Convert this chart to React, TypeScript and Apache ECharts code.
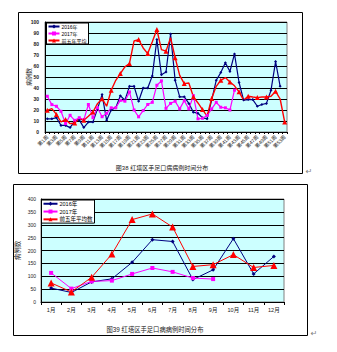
import React, { useEffect, useRef } from 'react';
import * as echarts from 'echarts';

const weekLabels = [
  '第1周', '第2周', '第3周', '第4周', '第5周', '第6周', '第7周', '第8周', '第9周', '第10周',
  '第11周', '第12周', '第13周', '第14周', '第15周', '第16周', '第17周', '第18周', '第19周', '第20周',
  '第21周', '第22周', '第23周', '第24周', '第25周', '第26周', '第27周', '第28周', '第29周', '第30周',
  '第31周', '第32周', '第33周', '第34周', '第35周', '第36周', '第37周', '第38周', '第39周', '第40周',
  '第41周', '第42周', '第43周', '第44周', '第45周', '第46周', '第47周', '第48周', '第49周', '第50周',
  '第51周', '第52周', '第53周',
];
const week2016 = [
  12, 12, 13, 6, 6, 4, 10, 11, 4, 9,
  9, 21, 34, 10.6, 20, 22, 33, 29, 41.5, 41.5,
  28, 40, 40, 51, 84, 52, 54.5, 89, 47, 32,
  32, 26, 18, 17, 13, 12, 29, 47, 54, 63,
  55, 71, 45, 29, 29.5, 29.5, 23.4, 25, 26, 38,
  64, 41.5,
];
const week2017 = [
  32.5, 24.9, 23.4, 18.8, 7.6, 15.2, 10.6, 13, 11, 25,
  13, 22, 13.9, 17, 22, 22, 28.8, 28, 36.4, 20,
  13.8, 19.5, 25, 27, 42.5, 46.5, 21.5, 26, 28, 21,
  28.5, 21, 33, 12, 12.5, 15, 21, 27, 22.5, 22,
  20, 38,
];
const weekAvg = [
  19.7, 21.2, 16, 9.1, 11.3, 7.6, 8.2, 12.2, 10.6, 14.3,
  18.2, 25.8, 30.3, 23.4, 37.9, 47, 53.1, 59.2, 62.3, 82.7,
  84, 76.4, 71.3, 82, 93.1, 74.9, 73.5, 85.8, 67.6, 51.5,
  44, 44.5, 32, 26.4, 20.4, 14.5, 30.4, 41.5, 47, 49.5,
  45.5, 42, 36.5, 29, 32.5, 31.8, 31.3, 31.8, 31.8, 32.5,
  37, 30, 9,
];

const monthLabels = ['1月', '2月', '3月', '4月', '5月', '6月', '7月', '8月', '9月', '10月', '11月', '12月'];
const month2016 = [54, 37, 78, 90, 154, 242, 235, 87, 125, 246, 109, 177];
const month2017 = [113, 52, 80, 83, 109, 132, 117, 93, 89];
const monthAvg = [74, 39, 96, 186, 320, 342, 291, 138, 145, 184, 134, 142];

const name2016 = '2016年';
const name2017 = '2017年';
const nameAvgTop = '前五年平均';
const nameAvgBot = '前五年平均数';
const yName = '病例数';
const caption1 = '图38 红塔区手足口病病例时间分布';
const caption2 = '图39 红塔区手足口病病例时间分布';

const FONT = '"Liberation Sans", "Noto Sans CJK SC", sans-serif';
const NAVY = '#000080';
const MAGENTA = '#FF00FF';
const RED = '#FF0000';

export default function App() {
  const ref = useRef<HTMLDivElement>(null);
  useEffect(() => {
    const chart = echarts.init(ref.current!, null, { renderer: 'svg' });
    const gridCommon = {
      show: true,
      backgroundColor: '#CCFFFF',
      borderColor: '#808080',
      borderWidth: 1,
      containLabel: false,
    };
    const yCommon = {
      type: 'value' as const,
      min: 0,
      axisLine: { show: true, lineStyle: { color: '#000', width: 1 } },
      axisTick: { show: false },
      splitLine: { show: true, lineStyle: { color: '#000', width: 1 } },
      nameLocation: 'middle' as const,
      nameRotate: 90,
      nameMoveOverlap: false,
    };
    chart.setOption({
      animation: false,
      textStyle: { fontFamily: FONT },
      grid: [
        { ...gridCommon, left: 45, top: 22, width: 242, height: 110 },
        { ...gridCommon, left: 41, top: 199, width: 243, height: 103 },
      ],
      xAxis: [
        {
          type: 'category',
          gridIndex: 0,
          data: weekLabels,
          boundaryGap: true,
          axisLine: { lineStyle: { color: '#000', width: 1 } },
          axisTick: { show: true, interval: 0, length: 2, lineStyle: { color: '#000' } },
          axisLabel: { interval: 1, rotate: 45, fontSize: 5, color: '#222', margin: 4, fontFamily: FONT },
        },
        {
          type: 'category',
          gridIndex: 1,
          data: monthLabels,
          boundaryGap: true,
          axisLine: { lineStyle: { color: '#000', width: 1 } },
          axisTick: { show: true, length: 3, lineStyle: { color: '#000' } },
          axisLabel: { interval: 0, fontSize: 5.5, color: '#222', margin: 5, fontFamily: FONT },
        },
      ],
      yAxis: [
        {
          ...yCommon,
          gridIndex: 0,
          max: 100,
          interval: 10,
          name: yName,
          nameGap: 13,
          nameTextStyle: { fontSize: 6, color: '#222', fontFamily: FONT },
          axisLabel: { fontSize: 5, color: '#222', margin: 6, fontWeight: 'bold', fontFamily: FONT },
        },
        {
          ...yCommon,
          gridIndex: 1,
          max: 400,
          interval: 50,
          name: yName,
          nameGap: 20,
          nameTextStyle: { fontSize: 6.5, color: '#222', fontFamily: FONT },
          axisLabel: { fontSize: 5, color: '#222', margin: 5, fontFamily: FONT },
        },
      ],
      legend: [
        {
          orient: 'vertical',
          left: 46.5,
          top: 23,
          backgroundColor: '#fff',
          borderColor: '#000',
          borderWidth: 1,
          padding: [1, 2, 1, 1],
          itemWidth: 11,
          itemHeight: 5,
          itemGap: 2,
          data: [name2016, name2017, nameAvgTop],
          textStyle: { fontSize: 5, color: '#000', fontFamily: FONT, padding: [0, 0, 0, -3] },
        },
        {
          orient: 'vertical',
          left: 41.5,
          top: 200,
          backgroundColor: '#fff',
          borderColor: '#000',
          borderWidth: 1,
          padding: [1, 2, 1, 1],
          itemWidth: 14,
          itemHeight: 5,
          itemGap: 2.3,
          data: [name2016, name2017, nameAvgBot],
          textStyle: { fontSize: 5.5, color: '#000', fontFamily: FONT, padding: [0, 0, 0, -3] },
        },
      ],
      series: [
        {
          name: name2016, type: 'line', xAxisIndex: 0, yAxisIndex: 0, data: week2016,
          color: NAVY, lineStyle: { width: 1.2, color: NAVY }, symbol: 'diamond', symbolSize: 3,
          itemStyle: { color: NAVY },
        },
        {
          name: name2017, type: 'line', xAxisIndex: 0, yAxisIndex: 0, data: week2017,
          color: MAGENTA, lineStyle: { width: 1.2, color: MAGENTA }, symbol: 'rect', symbolSize: 3,
          itemStyle: { color: MAGENTA },
        },
        {
          name: nameAvgTop, type: 'line', xAxisIndex: 0, yAxisIndex: 0, data: weekAvg,
          color: RED, lineStyle: { width: 1.4, color: RED }, symbol: 'triangle', symbolSize: 5,
          itemStyle: { color: RED },
        },
        {
          name: name2016, type: 'line', xAxisIndex: 1, yAxisIndex: 1, data: month2016,
          color: NAVY, lineStyle: { width: 1, color: NAVY }, symbol: 'diamond', symbolSize: 4,
          itemStyle: { color: NAVY },
        },
        {
          name: name2017, type: 'line', xAxisIndex: 1, yAxisIndex: 1, data: month2017,
          color: MAGENTA, lineStyle: { width: 1, color: MAGENTA }, symbol: 'rect', symbolSize: 4,
          itemStyle: { color: MAGENTA },
        },
        {
          name: nameAvgBot, type: 'line', xAxisIndex: 1, yAxisIndex: 1, data: monthAvg,
          color: RED, lineStyle: { width: 1, color: RED }, symbol: 'triangle', symbolSize: 7,
          itemStyle: { color: RED },
        },
      ],
      graphic: [
        { type: 'rect', shape: { x: 18.5, y: 12.5, width: 284, height: 161 }, style: { fill: 'none', stroke: '#000', lineWidth: 1 }, silent: true, z: -1 },
        { type: 'rect', shape: { x: 13.5, y: 184.5, width: 294, height: 151 }, style: { fill: 'none', stroke: '#000', lineWidth: 1 }, silent: true, z: -1 },
        { type: 'text', x: 162, y: 168, style: { text: caption1, fontSize: 6, fill: '#222', fontFamily: FONT, align: 'center', verticalAlign: 'middle' } },
        { type: 'text', x: 155, y: 329, style: { text: caption2, fontSize: 6.3, fill: '#222', fontFamily: FONT, align: 'center', verticalAlign: 'middle' } },
        { type: 'text', x: 309, y: 171, style: { text: '↵', fontSize: 8, fill: '#808080', fontFamily: '"DejaVu Sans"', align: 'center', verticalAlign: 'middle' } },
        { type: 'text', x: 314, y: 333, style: { text: '↵', fontSize: 8, fill: '#808080', fontFamily: '"DejaVu Sans"', align: 'center', verticalAlign: 'middle' } },
      ],
    });
    return () => chart.dispose();
  }, []);
  return (
    <div
      ref={ref}
      style={{ position: 'fixed', left: 0, top: 0, width: 337, height: 352, background: '#fff' }}
    />
  );
}
